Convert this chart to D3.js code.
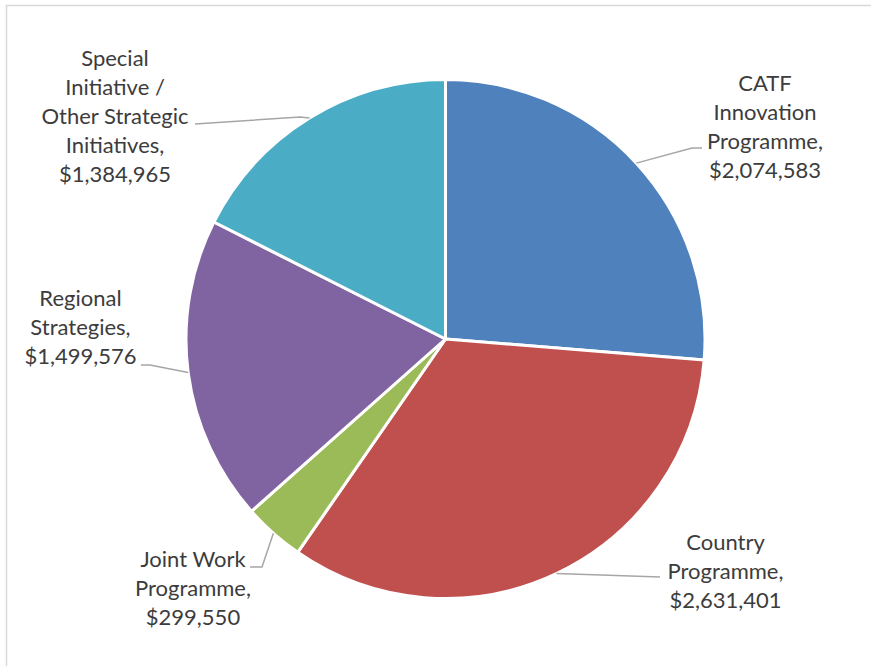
<!DOCTYPE html>
<html>
<head>
<meta charset="utf-8">
<script src="https://cdn.jsdelivr.net/npm/d3@7"></script>
<style>
  body { margin: 0; background: #fff; }
  text { font-family: Lato, "Open Sans", sans-serif; font-size: 22px; fill: #3c3c3c; }
</style>
</head>
<body>
<svg width="871" height="666"></svg>
<script>
// data
const categories = ['CATF Innovation Programme', 'Country Programme', 'Joint Work Programme', 'Regional Strategies', 'Special Initiative / Other Strategic Initiatives']
const amounts = [2074583, 2631401, 299550, 1499576, 1384965]
const labelLines = [
  ['CATF', 'Innovation', 'Programme,'],
  ['Country', 'Programme,'],
  ['Joint Work', 'Programme,'],
  ['Regional', 'Strategies,'],
  ['Special', 'Initiative /', 'Other Strategic', 'Initiatives,']
]

// layout of labels (x centre, first baseline, leader elbow, leader end)
const labelLayout = [
  { x: 765, y: 90.5, elbow: [692, 148], end: [702, 148] },
  { x: 725.5, y: 550, elbow: [660, 577], end: [660, 577] },
  { x: 193, y: 567, elbow: [262, 567], end: [250, 567] },
  { x: 80.5, y: 306, elbow: [150, 365], end: [141, 365] },
  { x: 115, y: 65.5, elbow: [300, 117], end: [195, 124] }
]

const colors = ['#4F81BD', '#C0504D', '#9BBB59', '#8064A2', '#4BACC6']
const fmt = d3.format('$,')

const svg = d3.select('svg')
const cx = 445.5, cy = 339, radius = 259.5

// outer chart frame
svg.append('rect')
  .attr('x', 6.5).attr('y', 5.5)
  .attr('width', 900).attr('height', 700)
  .attr('fill', 'none').attr('stroke', '#D9D9D9').attr('stroke-width', 1.5)

const g = svg.append('g').attr('transform', 'translate(' + cx + ',' + cy + ')')

const pie = d3.pie().sort(null).value(function(d){ return d })
const arcs = pie(amounts)

const path = d3.arc().innerRadius(0).outerRadius(radius)
const edge = d3.arc().innerRadius(radius).outerRadius(radius)

g.selectAll('.slice')
  .data(arcs)
  .enter()
  .append('path')
    .attr('class', 'slice')
    .attr('d', path)
    .attr('fill', function(d, i){ return colors[i] })
    .attr('stroke', '#fff')
    .attr('stroke-width', 3)
    .attr('stroke-linejoin', 'round')

// leader lines
g.selectAll('.leader')
  .data(arcs)
  .enter()
  .append('polyline')
    .attr('class', 'leader')
    .attr('fill', 'none')
    .attr('stroke', '#A6A6A6')
    .attr('stroke-width', 1.5)
    .attr('points', function(d, i){
      const p = edge.centroid(d)
      const L = labelLayout[i]
      return [p, [L.elbow[0] - cx, L.elbow[1] - cy], [L.end[0] - cx, L.end[1] - cy]].map(function(q){ return q.join(',') }).join(' ')
    })

// labels
const labels = svg.selectAll('.label')
  .data(arcs)
  .enter()
  .append('text')
    .attr('class', 'label')
    .attr('text-anchor', 'middle')
    .attr('x', function(d, i){ return labelLayout[i].x })
    .attr('y', function(d, i){ return labelLayout[i].y })

labels.each(function(d, i){
  const lines = labelLines[i].concat([fmt(amounts[i])])
  d3.select(this).selectAll('tspan')
    .data(lines)
    .enter()
    .append('tspan')
      .attr('x', labelLayout[i].x)
      .attr('dy', function(t, j){ return j === 0 ? 0 : 29.2 })
      .text(function(t){ return t })
})
</script>
</body>
</html>
